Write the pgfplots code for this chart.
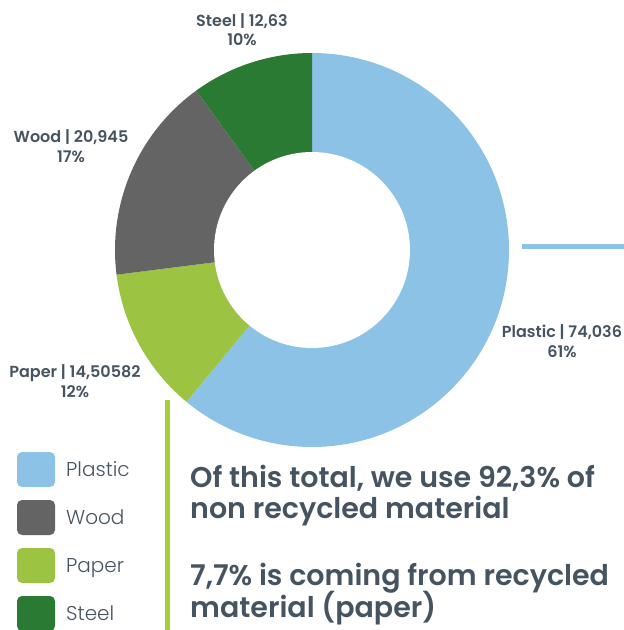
\documentclass[border=0pt]{standalone}
\usepackage{fontspec}
\setmainfont{Poppins}
\newfontfamily\medfont{Poppins SemiBold}
\newfontfamily\lightfont{Poppins Light}
\usepackage{pgfplots}
\usepackage{pgfplotstable}
\pgfplotsset{compat=1.18}

\definecolor{cplastic}{RGB}{140,194,229}
\definecolor{cwood}{RGB}{100,100,100}
\definecolor{cpaper}{RGB}{157,195,66}
\definecolor{csteel}{RGB}{43,122,52}
\definecolor{ctext}{RGB}{70,84,98}
\definecolor{cbar}{RGB}{166,206,57}

% material, tonnes, share in %
\pgfplotstableread{
name value pct
Plastic 74.036 61
Paper 14.50582 12
Wood 20.945 17
Steel 12.63 10
}\materials

% slice from start angle #1 to end angle #2 (clockwise)
\newcommand\donutslice[3]{%
  \fill[#3] (axis cs:312,250) -- ++(#1:197pt)
    arc[start angle=#1, end angle=#2, radius=197pt] -- cycle;}
\newcommand\lbl[5]{%
  \node[anchor=base, text=ctext, font=\medfont\fontsize{16}{18}\selectfont]
    at (axis cs:#1,#2) {#4};
  \node[anchor=base, text=ctext, font=\medfont\fontsize{16}{18}\selectfont]
    at (axis cs:#1,#3) {#5};}
\newcommand\legitem[3]{%
  \fill[#1, rounded corners=5pt] (axis cs:17,#2-24) rectangle (axis cs:55,#2+11);
  \node[anchor=base west, inner sep=0pt, text=ctext, font=\lightfont\fontsize{20}{24}\selectfont]
    at (axis cs:66,#2) {#3};}
\newcommand\bigline[2]{%
  \node[anchor=base west, inner sep=0pt, text=ctext, font=\medfont\fontsize{28.5}{31}\selectfont]
    at (axis cs:190,#1) {#2};}

\begin{document}
\begin{tikzpicture}
\useasboundingbox (0,0) rectangle (624pt,630pt);
\pgfplotstablegetelem{0}{pct}\of\materials \pgfmathsetmacro\aA{90-3.6*\pgfplotsretval}
\pgfplotstablegetelem{1}{pct}\of\materials \pgfmathsetmacro\aB{\aA-3.6*\pgfplotsretval}
\pgfplotstablegetelem{2}{pct}\of\materials \pgfmathsetmacro\aC{\aB-3.6*\pgfplotsretval}
\pgfplotstablegetelem{3}{pct}\of\materials \pgfmathsetmacro\aD{\aC-3.6*\pgfplotsretval}
\begin{axis}[
    at={(0,0)}, anchor=south west,
    scale only axis,
    width=624pt, height=630pt,
    xmin=0, xmax=624, ymin=0, ymax=630,
    y dir=reverse,
    hide axis,
    clip=false,
]
\donutslice{90}{\aA}{cplastic}
\donutslice{\aA}{\aB}{cpaper}
\donutslice{\aB}{\aC}{cwood}
\donutslice{\aC}{\aD}{csteel}
\fill[white] (axis cs:312,250) circle[radius=98pt];

\lbl{242}{26}{45}{Steel | 12,63}{10\%}
\lbl{71}{142}{162}{Wood | 20,945}{17\%}
\lbl{75}{377}{397}{Paper | 14,50582}{12\%}
\lbl{562}{337}{357}{Plastic | 74,036}{61\%}

\draw[cplastic, line width=5pt] (axis cs:522,246) -- (axis cs:630,246);
\draw[cbar, line width=5pt] (axis cs:167.5,400) -- (axis cs:167.5,640);

% legend
\legitem{cplastic}{476}{Plastic}
\legitem{cwood}{524}{Wood}
\legitem{cpaper}{572}{Paper}
\legitem{csteel}{620}{Steel}

\bigline{487}{Of this total, we use 92,3\% of}
\bigline{518}{non recycled material}
\bigline{585}{7,7\% is coming from recycled}
\bigline{617}{material (paper)}
\end{axis}
\end{tikzpicture}
\end{document}
